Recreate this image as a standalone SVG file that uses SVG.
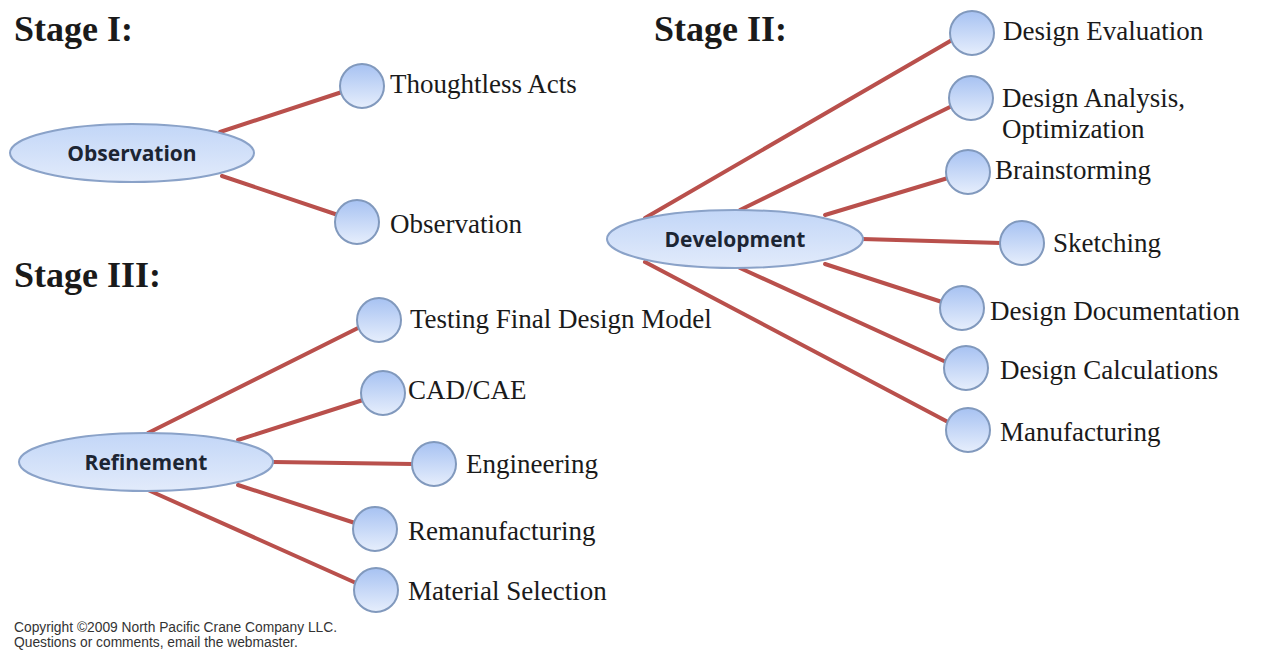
<svg xmlns="http://www.w3.org/2000/svg" width="1263" height="652" viewBox="0 0 1263 652">
<defs>
<linearGradient id="gc" x1="0" y1="0" x2="0" y2="1">
<stop offset="0" stop-color="#a7c2f2"/><stop offset="1" stop-color="#e6eefc"/>
</linearGradient>
<linearGradient id="ge" x1="0" y1="0" x2="0" y2="1">
<stop offset="0" stop-color="#c2d6f7"/><stop offset="1" stop-color="#e2ebfb"/>
</linearGradient>
<style>
.c{fill:url(#gc);stroke:#8199bd;stroke-width:2}
.e{fill:url(#ge);stroke:#8aa2c8;stroke-width:2}
.l{font-family:"Liberation Serif","DejaVu Serif",serif;font-size:27px;fill:#1a1a1a}
.s{font-family:"Liberation Serif","DejaVu Serif",serif;font-size:36px;font-weight:bold;fill:#1a1a1a}
.t{font-family:"Open Sans","Liberation Sans",sans-serif;font-size:21px;font-weight:bold;fill:#1c2533;text-anchor:middle}
.f{font-family:"Liberation Sans",sans-serif;font-size:13.8px;fill:#333}
#connectors line{stroke:#b9504c;stroke-width:4;stroke-linecap:round}
</style>
</defs>
<rect width="1263" height="652" fill="#fff"/>
<text class="s" x="14" y="41">Stage I:</text>
<text class="s" x="654" y="41">Stage II:</text>
<text class="s" x="14" y="287">Stage III:</text>
<g id="connectors">
<line x1="220" y1="132" x2="342" y2="92"/>
<line x1="222" y1="176" x2="338" y2="215"/>
<line x1="645" y1="218" x2="952" y2="40"/>
<line x1="740" y1="210" x2="952" y2="106"/>
<line x1="825" y1="215" x2="948" y2="178"/>
<line x1="862" y1="239" x2="1001" y2="243"/>
<line x1="825" y1="264" x2="942" y2="302"/>
<line x1="740" y1="268" x2="946" y2="362"/>
<line x1="645" y1="262" x2="948" y2="422"/>
<line x1="148" y1="433" x2="358" y2="328"/>
<line x1="238" y1="440" x2="363" y2="400"/>
<line x1="273" y1="462" x2="413" y2="464"/>
<line x1="238" y1="485" x2="355" y2="523"/>
<line x1="148" y1="490" x2="356" y2="583"/>
</g>
<g id="observation-hub"><ellipse class="e" cx="132" cy="153" rx="122" ry="29"/><text class="t" x="132" y="161">Observation</text></g>
<g id="development-hub"><ellipse class="e" cx="735" cy="239" rx="128" ry="29"/><text class="t" x="735" y="247">Development</text></g>
<g id="refinement-hub"><ellipse class="e" cx="146" cy="462" rx="127" ry="29"/><text class="t" x="146" y="470">Refinement</text></g>
<g id="n-thoughtless"><circle class="c" cx="362" cy="86" r="22"/><text class="l" x="390" y="93">Thoughtless Acts</text></g>
<g id="n-observation"><circle class="c" cx="357" cy="222" r="22"/><text class="l" x="390" y="233">Observation</text></g>
<g id="n-evaluation"><circle class="c" cx="972" cy="33" r="22"/><text class="l" x="1003" y="40">Design Evaluation</text></g>
<g id="n-analysis"><circle class="c" cx="971" cy="98" r="22"/><text class="l" x="1002" y="107">Design Analysis,</text><text class="l" x="1002" y="138">Optimization</text></g>
<g id="n-brainstorming"><circle class="c" cx="968" cy="172" r="22"/><text class="l" x="995" y="179">Brainstorming</text></g>
<g id="n-sketching"><circle class="c" cx="1022" cy="243" r="22"/><text class="l" x="1053" y="252">Sketching</text></g>
<g id="n-documentation"><circle class="c" cx="962" cy="308" r="22"/><text class="l" x="990" y="320">Design Documentation</text></g>
<g id="n-calculations"><circle class="c" cx="966" cy="368" r="22"/><text class="l" x="1000" y="379">Design Calculations</text></g>
<g id="n-manufacturing"><circle class="c" cx="968" cy="430" r="22"/><text class="l" x="1000" y="441">Manufacturing</text></g>
<g id="n-testing"><circle class="c" cx="379" cy="320" r="22"/><text class="l" x="410" y="328">Testing Final Design Model</text></g>
<g id="n-cad"><circle class="c" cx="383" cy="393" r="22"/><text class="l" x="408" y="399">CAD/CAE</text></g>
<g id="n-engineering"><circle class="c" cx="434" cy="464" r="22"/><text class="l" x="466" y="473">Engineering</text></g>
<g id="n-remanufacturing"><circle class="c" cx="375" cy="529" r="22"/><text class="l" x="408" y="540">Remanufacturing</text></g>
<g id="n-material"><circle class="c" cx="376" cy="590" r="22"/><text class="l" x="408" y="600">Material Selection</text></g>
<text class="f" x="14" y="632">Copyright ©2009 North Pacific Crane Company LLC.</text>
<text class="f" x="14" y="647">Questions or comments, email the webmaster.</text>
</svg>
